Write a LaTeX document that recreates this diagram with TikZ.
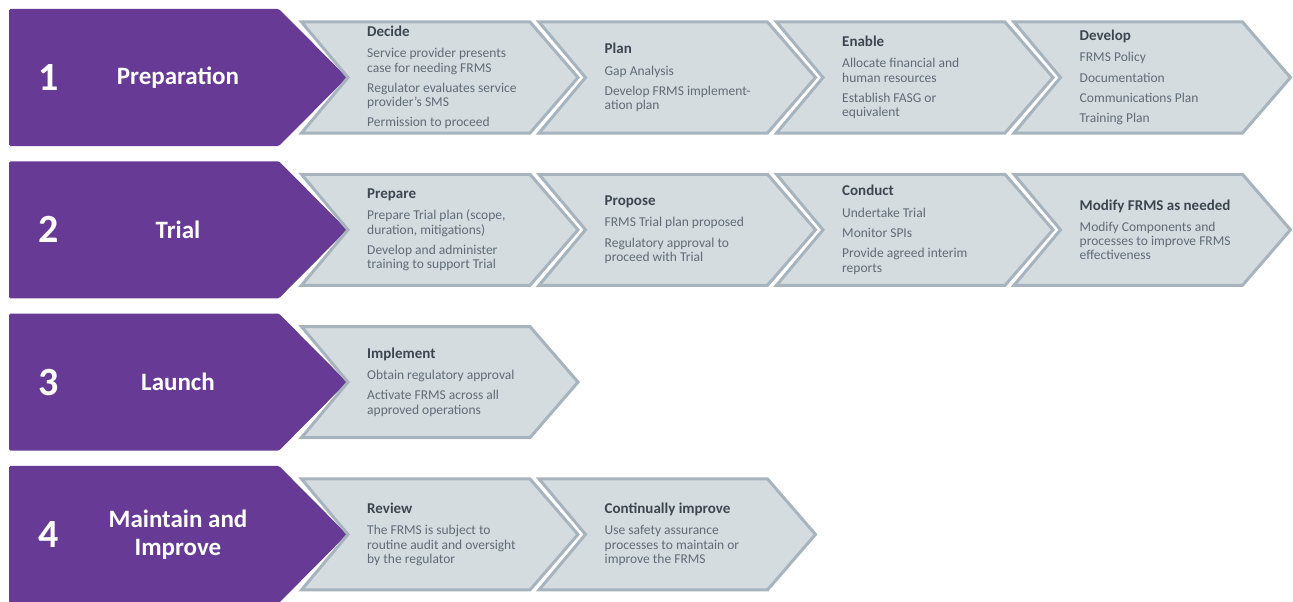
\documentclass[tikz,border=0pt]{standalone}
\usepackage{fontspec}
\setmainfont{Carlito}
\usetikzlibrary{positioning,calc}

\definecolor{phasepurple}{RGB}{103,58,150}
\definecolor{stepfill}{RGB}{213,220,224}
\definecolor{stepline}{RGB}{167,180,189}
\definecolor{steptitle}{RGB}{60,70,78}
\definecolor{stepgray}{RGB}{96,107,116}

\tikzset{
  phase/.style={fill=phasepurple, rounded corners=1.5pt},
  stepshape/.style={fill=stepfill, draw=stepline, line width=3pt, line join=miter},
  phasenum/.style={text=white, inner sep=0pt, font=\fontsize{40}{40}\selectfont\bfseries},
  phasename/.style={text=white, inner sep=0pt, align=center, font=\fontsize{25}{28}\selectfont\bfseries},
  steptext/.style={anchor=west, align=left, inner sep=0pt, text=stepgray, font=\fontsize{13.5}{14.3}\selectfont}
}
\newcommand{\ttl}[1]{{\color{steptitle}\fontsize{15}{15}\selectfont\bfseries #1}}
\newcommand{\stepchevron}[2]{%
  \filldraw[stepshape] (#1+1.5,#2-55.5) -- (#1+230,#2-55.5) -- (#1+278,#2) -- (#1+230,#2+55.5) -- (#1+1.5,#2+55.5) -- (#1+48,#2) -- cycle;}

\begin{document}
\begin{tikzpicture}[x=1pt,y=-1pt]

\useasboundingbox (0,0) rectangle (1293,602);

\foreach \c/\n in {77.5/1,229.8/2,382.1/3,534.4/4}{
  \fill[phase] (9,\c-68.5) -- (279,\c-68.5) -- (347,\c) -- (279,\c+68.5) -- (9,\c+68.5) -- cycle;
  \node[phasenum] (num\n) at (49,\c) {\n};
}

\node[phasename] (prep) at (178,77.5) {Preparation};
\node[phasename] (trial) at (178,229.8) {Trial};
\node[phasename] (launch) at (178,382.1) {Launch};
\node[phasename] (maint) at (178,534.4) {Maintain and\\Improve};

\foreach \x/\c in {300/77.5,537.5/77.5,775/77.5,1012.5/77.5,300/229.8,537.5/229.8,775/229.8,1012.5/229.8,300/382.1,300/534.4,537.5/534.4}{
  \stepchevron{\x}{\c}
}

\node[steptext] (decide) at (367,77.5) {\ttl{Decide}\\[7pt]
  Service provider presents\\case for needing FRMS\\[6pt]
  Regulator evaluates service\\provider’s SMS\\[6pt]
  Permission to proceed};
\node[steptext] (plan) at (604.5,77.5) {\ttl{Plan}\\[7pt]
  Gap Analysis\\[6pt]
  Develop FRMS implement-\\ation plan};
\node[steptext] (enable) at (842,77.5) {\ttl{Enable}\\[7pt]
  Allocate financial and\\human resources\\[6pt]
  Establish FASG or\\equivalent};
\node[steptext] (develop) at (1079.5,77.5) {\ttl{Develop}\\[7pt]
  FRMS Policy\\[6pt]
  Documentation\\[6pt]
  Communications Plan\\[6pt]
  Training Plan};

\node[steptext] (prepare) at (367,229.8) {\ttl{Prepare}\\[7pt]
  Prepare Trial plan (scope,\\duration, mitigations)\\[6pt]
  Develop and administer\\training to support Trial};
\node[steptext] (propose) at (604.5,229.8) {\ttl{Propose}\\[7pt]
  FRMS Trial plan proposed\\[6pt]
  Regulatory approval to\\proceed with Trial};
\node[steptext] (conduct) at (842,229.8) {\ttl{Conduct}\\[7pt]
  Undertake Trial\\[6pt]
  Monitor SPIs\\[6pt]
  Provide agreed interim\\reports};
\node[steptext] (modify) at (1079.5,229.8) {\ttl{Modify FRMS as needed}\\[7pt]
  Modify Components and\\processes to improve FRMS\\effectiveness};

\node[steptext] (implement) at (367,382.1) {\ttl{Implement}\\[7pt]
  Obtain regulatory approval\\[6pt]
  Activate FRMS across all\\approved operations};

\node[steptext] (review) at (367,534.4) {\ttl{Review}\\[7pt]
  The FRMS is subject to\\routine audit and oversight\\by the regulator};
\node[steptext] (improve) at (604.5,534.4) {\ttl{Continually improve}\\[7pt]
  Use safety assurance\\processes to maintain or\\improve the FRMS};

\end{tikzpicture}
\end{document}
